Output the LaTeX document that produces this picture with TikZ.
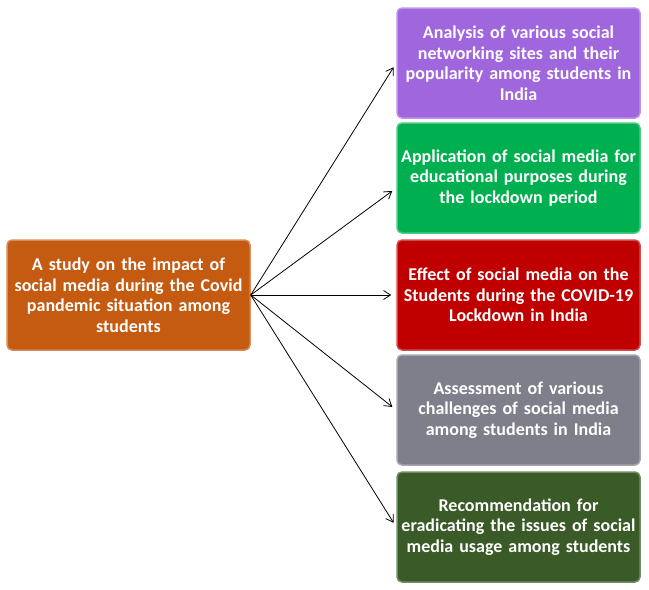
\documentclass[tikz,border=0pt]{standalone}
\usepackage{fontspec}
\setmainfont{Carlito}
\usetikzlibrary{arrows.meta}
\definecolor{corange}{HTML}{C55A11}
\definecolor{cpurple}{HTML}{A066DD}
\definecolor{cgreen}{HTML}{00B050}
\definecolor{cred}{HTML}{C00000}
\definecolor{cgray}{HTML}{7F7F8C}
\definecolor{cdgreen}{HTML}{3A5A27}
\tikzset{
  box/.style={rectangle, rounded corners=5pt, minimum width=243pt, minimum height=110pt,
    inner sep=0pt, text width=243pt, align=center, text=white,
    font=\fontsize{18}{20.5}\selectfont\bfseries, line width=1.5pt},
  conn/.style={-{Straight Barb[length=7pt,width=9pt]}, line width=0.8pt, shorten >=5pt},
}
\begin{document}
\begin{tikzpicture}[x=1pt,y=-1pt]
\useasboundingbox (0,0) rectangle (649,590);
\node[box, fill=corange, draw=corange!70!white] (src) at (128.5,295) {A study on the impact of\\social media during the Covid\\pandemic situation among\\students};
\node[box, fill=cpurple, draw=cpurple!70!white] (b1) at (518.5,63) {Analysis of various social\\networking sites and their\\popularity among students in\\India};
\node[box, fill=cgreen, draw=cgreen!70!white] (b2) at (518.5,178) {Application of social media for\\educational purposes during\\the lockdown period};
\node[box, fill=cred, draw=cred!70!white] (b3) at (518.5,295) {Effect of social media on the\\Students during the COVID-19\\Lockdown in India};
\node[box, fill=cgray, draw=cgray!70!white] (b4) at (518.5,410) {Assessment of various\\challenges of social media\\among students in India};
\node[box, fill=cdgreen, draw=cdgreen!70!white] (b5) at (518.5,527) {Recommendation for\\eradicating the issues of social\\media usage among students};
\draw[conn] (src.east) -- (b1.west);
\draw[conn] (src.east) -- ([yshift=-10pt]b2.west);
\draw[conn] (src.east) -- (b3.west);
\draw[conn] (src.east) -- (b4.west);
\draw[conn] (src.east) -- (b5.west);
\end{tikzpicture}
\end{document}
